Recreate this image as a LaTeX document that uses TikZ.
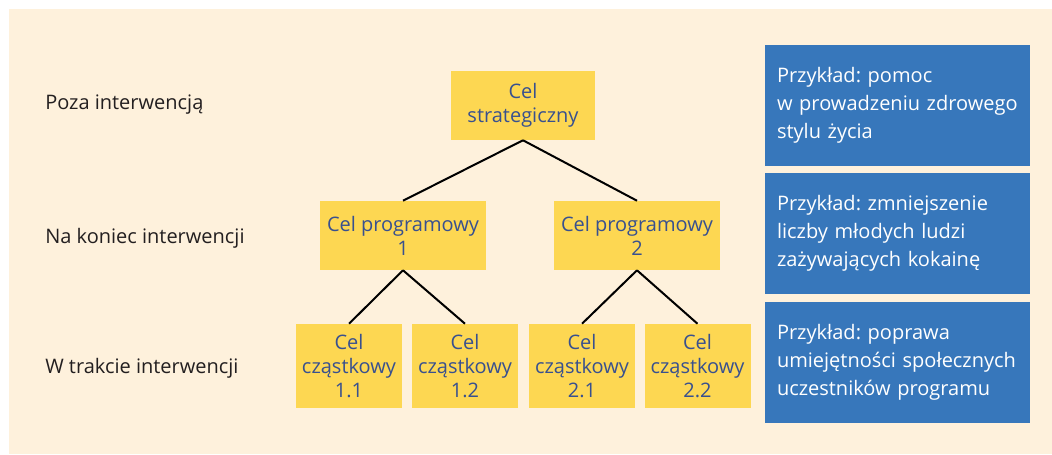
\documentclass[tikz,border=0pt]{standalone}
\usepackage{fontspec}
\setmainfont{Open Sans}
\frenchspacing
\definecolor{cream}{HTML}{FEF1DC}
\definecolor{goal}{HTML}{FDD752}
\definecolor{goaltext}{HTML}{38508F}
\definecolor{example}{HTML}{3777BB}
\definecolor{labeltext}{HTML}{231F20}
\begin{document}
\begin{tikzpicture}[x=0.75pt,y=-0.75pt,
  goalbox/.style={fill=goal, text=goaltext, inner sep=0pt, align=center,
    font=\fontsize{15pt}{18pt}\selectfont},
  examplebox/.style={fill=example, text=white, inner sep=0pt, minimum width=265*0.75pt,
    minimum height=121*0.75pt, text width=241*0.75pt, align=left,
    font=\fontsize{15pt}{21pt}\selectfont},
  levellabel/.style={anchor=west, text=labeltext, inner sep=0pt,
    font=\fontsize{15pt}{18pt}\selectfont},
  link/.style={draw=black, line width=1.5pt}]
\useasboundingbox (0,0) rectangle (1052,454);
\fill[white] (0,0) rectangle (1052,454);
\fill[cream] (9,9) rectangle (1052,454);

% level labels
\node[levellabel] (lvl1) at (45,105) {Poza interwencją};
\node[levellabel] (lvl2) at (45,238) {Na koniec interwencji};
\node[levellabel] (lvl3) at (45,368) {W trakcie interwencji};

% goal tree
\node[goalbox, minimum width=144*0.75pt, minimum height=69*0.75pt] (s) at (523,105.5) {Cel\\strategiczny};
\node[goalbox, minimum width=166*0.75pt, minimum height=69*0.75pt] (p1) at (403,235.5) {Cel programowy\\1};
\node[goalbox, minimum width=166*0.75pt, minimum height=69*0.75pt] (p2) at (637,235.5) {Cel programowy\\2};
\node[goalbox, minimum width=106*0.75pt, minimum height=84*0.75pt] (c11) at (349,366) {Cel\\cząstkowy\\1.1};
\node[goalbox, minimum width=106*0.75pt, minimum height=84*0.75pt] (c12) at (465,366) {Cel\\cząstkowy\\1.2};
\node[goalbox, minimum width=106*0.75pt, minimum height=84*0.75pt] (c21) at (582,366) {Cel\\cząstkowy\\2.1};
\node[goalbox, minimum width=106*0.75pt, minimum height=84*0.75pt] (c22) at (697.5,366) {Cel\\cząstkowy\\2.2};

\draw[link] (s.south) -- (p1.north);
\draw[link] (s.south) -- (p2.north);
\draw[link] (p1.south) -- (c11.north);
\draw[link] (p1.south) -- (c12.north);
\draw[link] (p2.south) -- (c21.north);
\draw[link] (p2.south) -- (c22.north);

% examples
\node[examplebox] (e1) at (897.5,105.5) {Przykład: pomoc\\w prowadzeniu zdrowego\\stylu życia};
\node[examplebox] (e2) at (897.5,233.5) {Przykład: zmniejszenie\\liczby młodych ludzi\\zażywających kokainę};
\node[examplebox] (e3) at (897.5,362.5) {Przykład: poprawa\\umiejętności społecznych\\uczestników programu};
\end{tikzpicture}
\end{document}
